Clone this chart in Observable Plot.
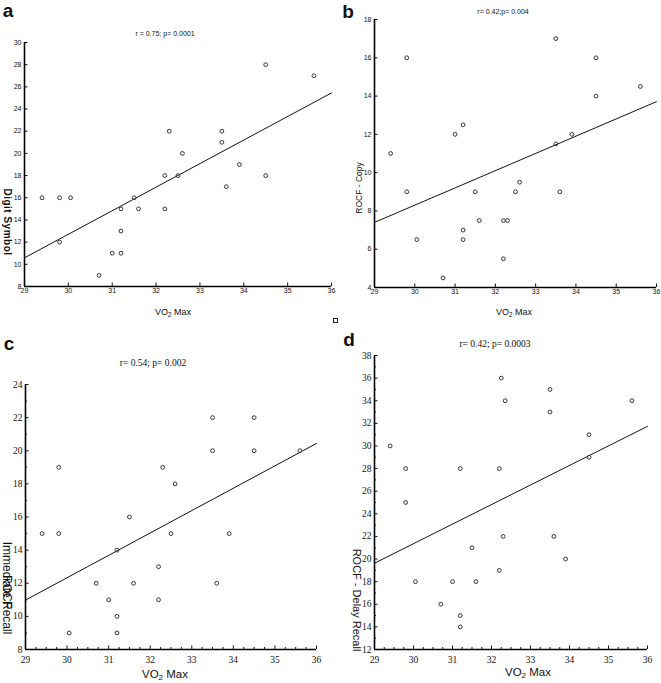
<!DOCTYPE html>
<html><head><meta charset="utf-8">
<script src="https://cdn.jsdelivr.net/npm/d3@7"></script>
<script src="https://cdn.jsdelivr.net/npm/@observablehq/plot@0.6"></script>
<style>
body{margin:0;background:#fff;}
#root{position:relative;width:661px;height:683px;overflow:hidden;background:#fff;color:#111;font-family:"Liberation Sans",Arial,sans-serif;}
.abs{position:absolute;white-space:nowrap;line-height:1;}
.panel{position:absolute;}
.letter{font-weight:bold;font-size:19px;font-family:"Liberation Sans",Arial,sans-serif;}
.sq{position:absolute;width:3px;height:3px;border:1px solid #222;}
</style></head><body><div id="root"></div>
<script>
// ---- data ----
const panelLetters = ["a", "b", "c", "d"];
const titles = ["r = 0.75; p= 0.0001", "r= 0.42;p= 0.004", "r= 0.54; p= 0.002", "r= 0.42; p= 0.0003"];
const yLabels = ["Digit Symbol", "ROCF - Copy", "Immediate Recall", "ROCF - Delay Recall"];
const xLabel = "VO<span style='font-size:70%;position:relative;top:2px'>2</span> Max";
const xTicks = [29, 30, 31, 32, 33, 34, 35, 36];

const vo2A = [29.4,29.8,30.05,29.8,30.7,31.0,31.2,31.2,31.2,31.5,31.6,32.2,32.2,32.3,32.5,32.6,33.5,33.5,33.6,33.9,34.5,34.5,35.6];
const digitSymbol = [16,16,16,12,9,11,11,13,15,16,15,18,15,22,18,20,22,21,17,19,28,18,27];

const vo2B = [29.4,29.8,29.8,30.05,30.7,31.0,31.2,31.2,31.2,31.5,31.6,32.2,32.3,32.2,32.5,32.6,33.5,33.5,33.6,33.9,34.5,34.5,35.6];
const rocfCopy = [11,16,9,6.5,4.5,12,12.5,7,6.5,9,7.5,7.5,7.5,5.5,9,9.5,17,11.5,9,12,16,14,14.5];

const vo2C = [29.4,29.8,29.8,30.05,30.7,31.0,31.2,31.2,31.2,31.5,31.6,32.2,32.2,32.3,32.5,32.6,33.5,33.5,33.6,33.9,34.5,34.5,35.6];
const immediateRecall = [15,19,15,9,12,11,10,9,14,16,12,13,11,19,15,18,22,20,12,15,22,20,20];

const vo2D = [29.4,29.8,29.8,30.05,30.7,31.0,31.2,31.2,31.2,31.5,31.6,32.2,32.2,32.3,32.25,32.35,33.5,33.5,33.6,33.9,34.5,34.5,35.6];
const delayRecall = [30,28,25,18,16,18,28,15,14,21,18,28,19,22,36,34,35,33,22,20,31,29,34];

const yDomainA = [8, 30], yDomainB = [4, 18], yDomainC = [8, 24], yDomainD = [12, 38];

// ---- helpers ----
const root = document.getElementById("root");
function fit(xs, ys) {
  const mx = d3.mean(xs), my = d3.mean(ys);
  let sxy = 0, sxx = 0;
  xs.forEach((x, i) => { sxy += (x - mx) * (ys[i] - my); sxx += (x - mx) ** 2; });
  const b = sxy / sxx;
  return x => my + b * (x - mx);
}
function label(html, cx, cy, style, rot = 0) {
  const d = document.createElement("div");
  d.className = "abs";
  d.innerHTML = html;
  d.style.left = cx + "px";
  d.style.top = cy + "px";
  d.style.transform = `translate(-50%,-50%) rotate(${rot}deg)`;
  Object.assign(d.style, style || {});
  root.appendChild(d);
  return d;
}
function panel(o) {
  const data = o.xs.map((x, i) => ({x, y: o.ys[i]}));
  const f = fit(o.xs, o.ys);
  const xDomain = [xTicks[0], xTicks[xTicks.length - 1]];
  const fitLine = xDomain.map(x => ({x, y: f(x)}));
  const fw = o.width - o.ml - o.mr, fh = o.height - o.mt - o.mb;
  const yTicks = d3.range(o.yDomain[0], o.yDomain[1] + 0.001, 2);
  const marks = [];
  if (o.minor) {
    const mx = d3.range(xDomain[0], xDomain[1] + 0.001, 0.25).filter(v => !xTicks.includes(v));
    const my = d3.range(o.yDomain[0], o.yDomain[1] + 0.001, 1).filter(v => !yTicks.includes(v));
    marks.push(Plot.ruleX(mx, {x: d => d, insetTop: fh - 2, stroke: "#111"}));
    marks.push(Plot.ruleY(my, {y: d => d, insetRight: fw - 2, stroke: "#111"}));
  }
  marks.push(
    Plot.ruleX(xTicks, {x: d => d, insetTop: fh - 3.5, stroke: "#111"}),
    Plot.ruleY(yTicks, {y: d => d, insetRight: fw - 3.5, stroke: "#111"}),
    Plot.line(fitLine, {x: "x", y: "y", stroke: "#111", strokeWidth: 1}),
    Plot.dot(data, {x: "x", y: "y", r: 1.9, stroke: "#333", strokeWidth: 1, fill: "none"}),
    Plot.ruleX([xDomain[0]], {stroke: "#000", strokeWidth: 1.6}),
    Plot.ruleY([o.yDomain[0]], {stroke: "#000", strokeWidth: 1.6})
  );
  const svg = Plot.plot({
    width: o.width, height: o.height,
    marginLeft: o.ml, marginRight: o.mr, marginTop: o.mt, marginBottom: o.mb,
    style: {fontFamily: o.font, fontSize: o.fontSize + "px", color: "#111", background: "transparent", overflow: "visible"},
    x: {domain: xDomain, ticks: xTicks, tickSize: 0, tickPadding: o.padX, label: null, tickFormat: d => String(d)},
    y: {domain: o.yDomain, ticks: yTicks, tickSize: 0, tickPadding: o.padY, label: null, tickFormat: d => String(d)},
    marks
  });
  const wrap = document.createElement("div");
  wrap.className = "panel";
  wrap.style.left = o.left + "px";
  wrap.style.top = o.top + "px";
  wrap.appendChild(svg);
  root.appendChild(wrap);
}

// ---- panels ----
const sansTick = "'Liberation Sans', Arial, sans-serif";
const serifTick = "'Liberation Serif', 'Times New Roman', serif";
panel({xs: vo2A, ys: digitSymbol, yDomain: yDomainA, left: 0, top: 0, width: 335, height: 300, ml: 24, mr: 4, mt: 42, mb: 14, font: sansTick, fontSize: 7, padX: 2, padY: 3});
panel({xs: vo2B, ys: rocfCopy, yDomain: yDomainB, left: 330, top: 0, width: 331, height: 300, ml: 44, mr: 5, mt: 19, mb: 13, font: sansTick, fontSize: 7, padX: 2, padY: 3});
panel({xs: vo2C, ys: immediateRecall, yDomain: yDomainC, left: 0, top: 340, width: 330, height: 343, ml: 25, mr: 14, mt: 44, mb: 34, font: serifTick, fontSize: 9.5, padX: 7, padY: 3, minor: true});
panel({xs: vo2D, ys: delayRecall, yDomain: yDomainD, left: 330, top: 340, width: 331, height: 343, ml: 44, mr: 14, mt: 15, mb: 34, font: serifTick, fontSize: 9.5, padX: 7, padY: 3, minor: true});

// ---- text ----
const letterPos = [[8, 10], [348, 11], [9, 343], [349, 339]];
panelLetters.forEach((t, i) => label(t, letterPos[i][0], letterPos[i][1], {}).className = "abs letter");

label(titles[0], 165, 33, {fontSize: "7px"});
label(titles[1], 503, 11, {fontSize: "7px"});
label(titles[2], 153, 364, {fontSize: "9.5px", fontFamily: serifTick});
label(titles[3], 495, 345, {fontSize: "9.5px", fontFamily: serifTick});

label(xLabel, 173, 312, {fontSize: "9px"});
label(xLabel, 514, 312, {fontSize: "9px"});
label(xLabel, 165, 675, {fontSize: "11.5px"});
label(xLabel, 528, 673, {fontSize: "11.5px"});

label(yLabels[0], 7, 222, {fontSize: "10px", fontWeight: "bold", letterSpacing: "0.5px"}, 90);
label(yLabels[1], 359, 188, {fontSize: "8.5px"}, -90);
label(yLabels[2], 7, 588, {fontSize: "12px"}, 90);
label("ROCF", 7, 592, {fontSize: "12px"}, 90);
label(yLabels[3], 356, 600, {fontSize: "11px"}, 90);

const sq = document.createElement("div");
sq.className = "sq"; sq.style.left = "333px"; sq.style.top = "318px";
root.appendChild(sq);
</script>
</body></html>
